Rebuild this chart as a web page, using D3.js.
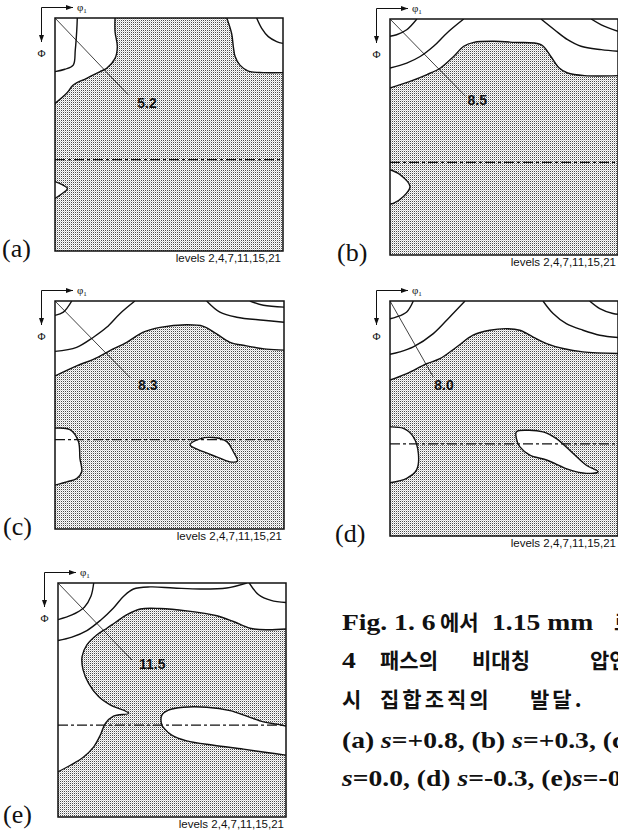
<!DOCTYPE html>
<html>
<head>
<meta charset="utf-8">
<script src="https://cdn.jsdelivr.net/npm/d3@7"></script>
<style>
  body { margin: 0; background: #fff; }
  svg { display: block; }
</style>
</head>
<body>
<svg id="fig" width="618" height="836"></svg>
<script>
// ODF sections: phi1 across, Phi down, both 0..90 deg
// contour lines, points in degrees [phi1, Phi]
const panelNames = ["(a)", "(b)", "(c)", "(d)", "(e)"];
const maxValues = ["5.2", "8.5", "8.3", "8.0", "11.5"];
const maxPoints = [[28.9, 29.7], [29.8, 29.5], [29.5, 30.3], [17.1, 29.1], [29.2, 29.6]];
const levels = [2, 4, 7, 11, 15, 21];
const fiberPhi = 54.7; // gamma fibre

// corners -> white (above lowest level) region closed through the box corners
const contoursA = [
  { pts: [[0,33.0],[4.6,29.1],[7.2,25.9],[12.5,23.3],[17.8,20.7],[20.4,19.4],[23.7,15.6],[24.6,11.1],[23.7,5.3],[23.7,0]], corners: [[0,0]] },
  { pts: [[67.8,0],[69.7,5.9],[70.4,11.1],[71.1,14.9],[73.0,18.2],[76.3,20.5],[82.2,21.1],[90,21.1]], corners: [[90,0]] },
  { pts: [[8.8,0],[8.6,4.6],[8.0,12.4],[7.2,18.2],[3.9,19.8],[0,20.7]] },
  { pts: [[79.6,0],[81.6,4.0],[84.2,7.2],[87.5,9.1],[90,9.8]] },
  { pts: [[0,63.2],[2.6,64.3],[4.9,65.8],[2.6,68.0],[0,69.7]], corners: [] }
];
const contoursB = [
  { pts: [[0,26.3],[7.9,23.8],[14.6,21.2],[19.9,18.7],[25.1,14.3],[29.1,10.4],[33.1,8.9],[41.0,8.5],[48.9,8.9],[59.6,9.8],[63.5,14.3],[66.8,18.7],[70.1,20.6],[76.8,21.6],[90,21.6]], corners: [[90,0],[0,0]] },
  { pts: [[10.6,0],[6.6,4.1],[2.6,6.0],[0,6.6]] },
  { pts: [[29.1,0],[22.5,5.3],[17.2,10.4],[11.9,14.3],[6.6,16.8],[0,18.7]] },
  { pts: [[59.6,0],[64.9,4.1],[70.1,7.9],[75.4,10.4],[83.4,11.7],[90,12.3]] },
  { pts: [[79.4,0],[83.4,2.2],[90,4.7]] },
  { pts: [[0,57.5],[4.0,59.4],[7.9,63.9],[5.3,67.7],[1.3,70.3],[0,70.5]], corners: [] }
];
const contoursC = [
  { pts: [[0,29.6],[8.5,25.6],[15.1,23.0],[21.6,19.6],[28.2,16.3],[34.7,12.3],[41.3,10.4],[51.7,9.4],[58.3,10.0],[63.5,13.0],[68.8,16.3],[75.3,17.7],[83.2,19.0],[90,19.4]], corners: [[90,0],[0,0]] },
  { pts: [[6.6,0],[3.3,4.4],[0,5.7]] },
  { pts: [[31.4,0],[25.5,5.0],[20.3,10.4],[15.1,14.3],[8.5,18.3],[0,19.9]] },
  { pts: [[59.6,0],[64.8,4.4],[71.4,6.4],[81.9,7.6],[90,8.4]] },
  { pts: [[76.6,0],[81.9,1.7],[90,2.4]] },
  { pts: [[0,50.2],[5.9,50.8],[9.2,55.5],[9.8,62.1],[10.5,67.4],[8.5,70.1],[4.6,71.4],[0,72.7]], corners: [] },
  { pts: [[53.1,56.8],[57.0,54.4],[62.2,53.9],[67.5,55.5],[70.1,59.5],[71.7,63.2],[68.8,63.5],[63.5,61.5],[58.3,59.5]], closed: true }
];
const contoursD = [
  { pts: [[0,30.3],[6.6,27.8],[14.5,24.0],[19.7,22.1],[26.3,17.6],[32.8,13.1],[39.4,11.2],[46.0,10.6],[51.2,11.2],[56.5,13.8],[61.8,16.3],[68.3,18.2],[76.2,19.5],[90,20.1]], corners: [[90,0],[0,0]] },
  { pts: [[9.2,0],[6.6,4.2],[2.6,6.1],[0,6.8]] },
  { pts: [[29.6,0],[23.6,6.1],[17.1,12.5],[9.2,17.6],[3.9,19.5],[0,20.4]] },
  { pts: [[60.4,0],[64.4,4.8],[69.6,8.7],[76.2,11.2],[82.8,13.1],[90,14.0]] },
  { pts: [[78.8,0],[82.8,2.9],[88.0,4.8],[90,5.1]] },
  { pts: [[0,48.2],[5.3,48.8],[9.2,52.0],[11.2,58.4],[10.5,64.7],[6.6,67.9],[0,69.6]], corners: [] },
  { pts: [[49.9,50.1],[53.9,49.5],[60.4,50.1],[65.7,52.7],[72.3,58.4],[77.5,62.9],[82.1,65.4],[77.5,66.0],[71.0,64.7],[61.8,60.9],[55.2,59.0],[51.2,55.8],[49.9,52.7]], closed: true }
];
const contoursE = [
  { pts: [[90,17.7],[82.4,18.0],[75.8,17.4],[69.2,14.8],[62.7,12.6],[50.8,10.7],[40.3,9.8],[32.5,10.0],[27.2,12.2],[22.6,15.2],[19.3,17.4],[15.4,19.9],[11.4,23.8],[9.5,28.3],[9.9,33.4],[12.1,38.6],[16.0,43.7],[20.6,46.9],[27.9,50.1],[21.9,51.2],[18.7,54.0],[16.7,58.5],[14.1,63.0],[10.1,66.9],[4.9,70.1],[0,72.6]], corners: [[0,0],[90,0]] },
  { pts: [[14.1,0],[13.0,5.1],[10.4,9.3],[5.5,12.3],[0,14.1]] },
  { pts: [[0,22.1],[5.5,20.8],[11.4,18.3],[16.7,14.4],[21.9,9.6],[25.9,5.1],[29.8,2.3],[36.4,1.5],[45.6,1.9],[56.1,2.3],[66.6,1.9],[74.5,0]] },
  { pts: [[75.5,0],[79.2,4.5],[84.1,6.7],[90,7.5]] },
  { pts: [[90,55.0],[86.3,54.3],[81.1,53.4],[74.5,51.2],[67.9,49.1],[58.7,47.8],[49.5,47.8],[43.6,48.9],[41.0,50.8],[41.0,54.6],[41.9,55.9],[44.9,58.5],[50.8,60.7],[61.4,62.4],[73.2,63.9],[82.4,65.2],[90,66.2]], corners: [] }
];
const allContours = [contoursA, contoursB, contoursC, contoursD, contoursE];

// layout of the five plots on the page
const boxes = [
  { x: 55,  y: 18,  w: 228, h: 233, lx: 2 },
  { x: 390, y: 19,  w: 228, h: 236, lx: 337 },
  { x: 55,  y: 301, w: 229, h: 228, lx: 3 },
  { x: 390, y: 301, w: 228, h: 235, lx: 335 },
  { x: 58,  y: 583, w: 228, h: 234, lx: 3 }
];
const valueShift = [[9, 13], [2, 9], [8, 12], [1, 13], [7, 9]];

const serif = "'Liberation Serif', 'Times New Roman', serif";
const sans = "'Liberation Sans', Arial, sans-serif";
const kor = "'Noto Sans CJK KR', sans-serif";

const svg = d3.select("#fig");
const defs = svg.append("defs");

// fine stipple fill like the printed screen
const pat = defs.append("pattern")
    .attr("id", "stipple")
    .attr("patternUnits", "userSpaceOnUse")
    .attr("width", 2).attr("height", 2);
pat.append("rect").attr("width", 2).attr("height", 2).attr("fill", "#fff");
[[0, 0, "#4a4a4a"], [1, 1, "#cfcfcf"]].forEach(d => {
    pat.append("rect").attr("x", d[0]).attr("y", d[1]).attr("width", 1).attr("height", 1).attr("fill", d[2]);
});

defs.append("marker")
    .attr("id", "arrow")
    .attr("markerUnits", "userSpaceOnUse")
    .attr("markerWidth", 7).attr("markerHeight", 5)
    .attr("refX", 7).attr("refY", 2.5)
    .attr("orient", "auto")
  .append("path")
    .attr("d", "M0,0L7,2.5L0,5Z")
    .attr("fill", "#111");

const drawPanel = (i) => {
    const b = boxes[i];
    const x = d3.scaleLinear().domain([0, 90]).range([0, b.w]);
    const y = d3.scaleLinear().domain([0, 90]).range([0, b.h]);
    const line = d3.line().x(d => x(d[0])).y(d => y(d[1])).curve(d3.curveCatmullRom.alpha(0.5));
    const loop = d3.line().x(d => x(d[0])).y(d => y(d[1])).curve(d3.curveCatmullRomClosed.alpha(0.5));

    const g = svg.append("g").attr("transform", `translate(${b.x},${b.y})`);
    defs.append("clipPath").attr("id", "clip" + i)
      .append("rect").attr("width", b.w).attr("height", b.h);
    const inner = g.append("g").attr("clip-path", `url(#clip${i})`);

    inner.append("rect")
        .attr("width", b.w).attr("height", b.h)
        .attr("fill", "url(#stipple)")
        .attr("shape-rendering", "crispEdges");

    const contours = allContours[i];

    // white areas
    contours.filter(c => c.corners || c.closed).forEach(c => {
        let d;
        if (c.closed) d = loop(c.pts);
        else d = line(c.pts) + c.corners.map(p => `L${x(p[0])},${y(p[1])}`).join("") + "Z";
        inner.append("path").attr("d", d).attr("fill", "#fff");
    });

    // Phi = 54.7 line
    inner.append("line")
        .attr("x1", 0).attr("x2", b.w)
        .attr("y1", y(fiberPhi)).attr("y2", y(fiberPhi))
        .attr("stroke", "#111")
        .attr("stroke-width", 1.2)
        .attr("stroke-dasharray", "10,3,3,3");

    // contour lines
    contours.forEach(c => {
        inner.append("path")
            .attr("d", c.closed ? loop(c.pts) : line(c.pts))
            .attr("fill", "none")
            .attr("stroke", "#111")
            .attr("stroke-width", 1.4)
            .attr("stroke-linejoin", "round");
    });

    // leader to the maximum
    const mp = maxPoints[i];
    g.append("line")
        .attr("x1", 0).attr("y1", 0)
        .attr("x2", x(mp[0])).attr("y2", y(mp[1]))
        .attr("stroke", "#111").attr("stroke-width", 0.8);
    g.append("text")
        .attr("x", x(mp[0]) + valueShift[i][0])
        .attr("y", y(mp[1]) + valueShift[i][1])
        .attr("font-family", sans)
        .attr("font-weight", "bold")
        .attr("font-size", 14)
        .attr("fill", "#111")
        .text(maxValues[i]);

    g.append("rect")
        .attr("width", b.w).attr("height", b.h)
        .attr("fill", "none")
        .attr("stroke", "#111")
        .attr("stroke-width", 1.5);

    // phi1 / Phi axis arrows
    const cx = -13.5, cy = -10.5;
    g.append("line")
        .attr("x1", cx).attr("y1", cy).attr("x2", 18).attr("y2", cy)
        .attr("stroke", "#111").attr("stroke-width", 1)
        .attr("marker-end", "url(#arrow)");
    g.append("line")
        .attr("x1", cx).attr("y1", cy).attr("x2", cx).attr("y2", 24)
        .attr("stroke", "#111").attr("stroke-width", 1)
        .attr("marker-end", "url(#arrow)");
    const phi1 = g.append("text")
        .attr("x", 22).attr("y", -7)
        .attr("font-family", serif)
        .attr("font-size", 11)
        .attr("fill", "#111")
        .text("φ");
    phi1.append("tspan").attr("font-size", 7).attr("dy", 2).text("1");
    g.append("text")
        .attr("x", cx).attr("y", 39)
        .attr("text-anchor", "middle")
        .attr("font-family", serif)
        .attr("font-size", 11)
        .attr("fill", "#111")
        .text("Φ");

    g.append("text")
        .attr("x", b.w - 2).attr("y", b.h + 11)
        .attr("text-anchor", "end")
        .attr("font-family", sans)
        .attr("font-size", 11.5)
        .attr("fill", "#111")
        .text("levels " + levels.join(","));

    svg.append("text")
        .attr("x", b.lx).attr("y", b.y + b.h + 6)
        .attr("font-family", serif)
        .attr("font-size", 26)
        .attr("fill", "#111")
        .text(panelNames[i]);
};

panelNames.forEach((n, i) => drawPanel(i));

// caption, justified words placed one by one (cut by the right edge as in the scan)
const captionRows = [
  { y: 630, parts: [["Fig. 1. 6", 342], ["에서", 440, 0], ["1.15 mm", 492], ["로", 614, 0]] },
  { y: 668, parts: [["4", 342], ["패스의", 380, 0], ["비대칭", 472, 0], ["압연", 590, 0]] },
  { y: 707, parts: [["시", 342, 0], ["집합조직의", 380, 3], ["발달.", 530, 3]] }
];
captionRows.forEach(r => {
    r.parts.forEach(p => {
        const ko = p.length > 2;
        svg.append("text")
            .attr("transform", ko ? `translate(${p[1]},${r.y})` : `translate(${p[1]},${r.y}) scale(1.15,1)`)
            .attr("font-family", ko ? kor : serif)
            .attr("font-weight", 700)
            .attr("font-size", ko ? 21 : 24)
            .attr("letter-spacing", ko ? p[2] : 0)
            .attr("fill", "#111")
            .text(p[0]);
    });
});

const sRows = [
  { y: 748, parts: [["(a) "], ["s", 1], ["=+0.8, (b) "], ["s", 1], ["=+0.3, (c) "]] },
  { y: 786, parts: [["s", 1], ["=0.0, (d) "], ["s", 1], ["=-0.3, (e)"], ["s", 1], ["=-0.8"]] }
];
sRows.forEach(r => {
    const t = svg.append("text")
        .attr("transform", `translate(342,${r.y}) scale(1.15,1)`)
        .attr("font-family", serif)
        .attr("font-weight", 700)
        .attr("font-size", 24)
        .attr("fill", "#111")
        .attr("xml:space", "preserve");
    r.parts.forEach(p => {
        t.append("tspan").attr("font-style", p[1] ? "italic" : "normal").text(p[0]);
    });
});
</script>
</body>
</html>
